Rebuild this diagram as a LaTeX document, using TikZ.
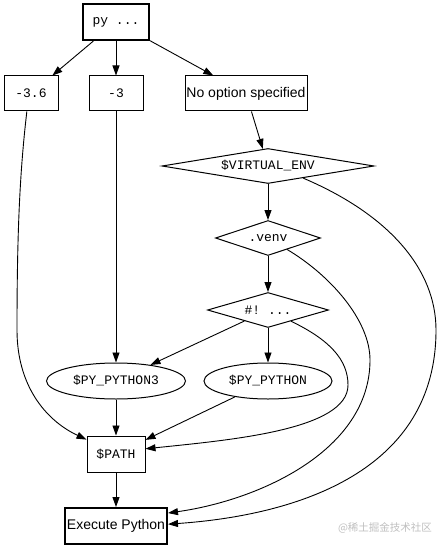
\documentclass[tikz,border=0pt]{standalone}
\usepackage{fontspec}
\setmainfont{Liberation Sans}
\setmonofont{Liberation Mono}
\newfontfamily\cjkfont{Noto Sans CJK SC}
\usetikzlibrary{shapes.geometric,arrows.meta}
\begin{document}
\begin{tikzpicture}[x=1pt,y=-1pt,
  every node/.style={inner sep=0pt, font=\fontsize{13}{15}\selectfont\ttfamily},
  box/.style={draw, line width=1pt, rectangle},
  thickbox/.style={draw, line width=2pt, rectangle},
  dia/.style={draw, line width=1pt, diamond, aspect=6},
  ell/.style={draw, line width=1pt, ellipse},
  sanslabel/.style={font=\fontsize{14}{16}\selectfont\rmfamily},
  edge/.style={draw, line width=0.9pt, -{Triangle[length=10pt,width=7pt]}}
]
\useasboundingbox (0,0) rectangle (440,548);
\node[thickbox, minimum width=66, minimum height=36] (py) at (116,22) {py ...};
\node[box, minimum width=54, minimum height=35] (m36) at (31,93.5) {-3.6};
\node[box, minimum width=54, minimum height=35] (m3) at (116,93.5) {-3};
\node[box, sanslabel, minimum width=122, minimum height=35] (nopt) at (246,93.5) {No option specified};
\node[dia, minimum width=212, minimum height=35] (ve) at (268,166) {\$VIRTUAL\_ENV};
\node[dia, minimum width=105, minimum height=35] (venv) at (268,238) {.venv};
\node[dia, minimum width=121, minimum height=35] (hash) at (268,310) {\#! ...};
\node[ell, minimum width=139, minimum height=36] (pyp3) at (116,381) {\$PY\_PYTHON3};
\node[ell, minimum width=128, minimum height=36] (pyp) at (268,381) {\$PY\_PYTHON};
\node[box, minimum width=58, minimum height=36] (path) at (116,454) {\$PATH};
\node[thickbox, sanslabel, minimum width=102, minimum height=36] (exec) at (116,526) {Execute Python};
\node[text=black!25, font=\fontsize{10.5}{12}\selectfont\cjkfont] (wm) at (385,528) {@稀土掘金技术社区};

\coordinate (a1) at (17,330);
\coordinate (a2) at (348,385);
\coordinate (a3) at (370,360);
\coordinate (a4) at (436,330);

\path[edge] (py) -- (m36);
\path[edge] (py) -- (m3);
\path[edge] (py) -- (nopt);
\path[edge] (nopt) -- (ve);
\path[edge] (ve) -- (venv);
\path[edge] (venv) -- (hash);
\path[edge] (hash) -- (pyp3);
\path[edge] (hash) -- (pyp);
\path[edge] (m3) -- (pyp3);
\path[edge] (pyp3) -- (path);
\path[edge] (pyp) -- (path);
\path[edge] (path) -- (exec);
\path[edge] (m36.-103) .. controls (20,170) and (17,230) .. (a1)
  .. controls (17,385) and (45,420) .. (path.154);
\path[edge] (hash.-26) .. controls (330,340) and (348,360) .. (a2)
  .. controls (348,430) and (230,440) .. (path.10);
\path[edge] (venv.-31) .. controls (330,275) and (370,320) .. (a3)
  .. controls (370,450) and (260,500) .. (exec.14);
\path[edge] (ve.-19) .. controls (390,215) and (436,270) .. (a4)
  .. controls (436,470) and (300,515) .. (exec.2);
\end{tikzpicture}
\end{document}
